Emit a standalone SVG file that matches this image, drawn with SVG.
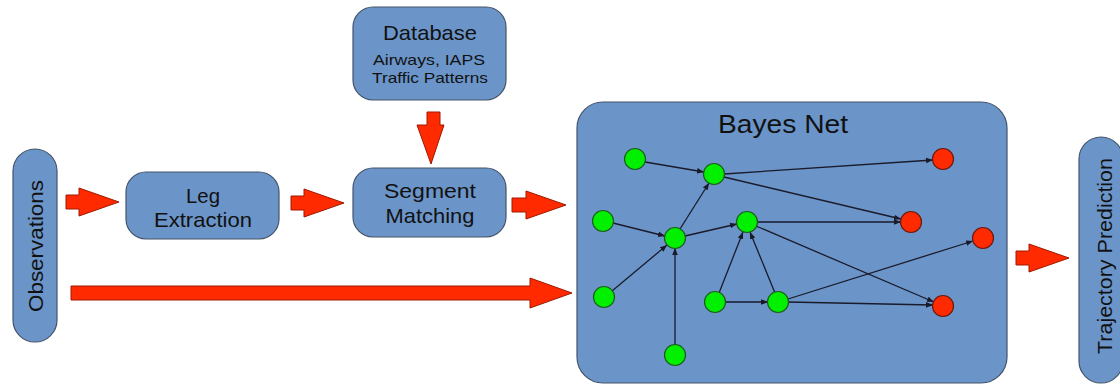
<svg xmlns="http://www.w3.org/2000/svg" width="1120" height="388" viewBox="0 0 1120 388">
<style>
.box{fill:#6b95c9;stroke:#44546a;stroke-width:1.2}
.t{font-family:"Liberation Sans",Arial,sans-serif;fill:#111;text-anchor:middle}
.big{font-size:21px}
.small{font-size:15px}
.fat{fill:#ff2a00;stroke:#a01800;stroke-width:1}
.g{fill:#00f000;stroke:#1d5c1d;stroke-width:1.2}
.r{fill:#ff2a00;stroke:#6a1a10;stroke-width:1.2}
.e{stroke:#1a1a2a;stroke-width:1.3;fill:none;marker-end:url(#ah)}
</style>
<defs>
<marker id="ah" viewBox="0 0 10 10" refX="10" refY="5" markerWidth="7" markerHeight="7" markerUnits="userSpaceOnUse" orient="auto">
<path d="M0,1 L10,5 L0,9 z" fill="#1a1a2a"/>
</marker>
</defs>
<rect width="1120" height="388" fill="#ffffff"/>

<g id="observations">
<rect class="box" x="13" y="149" width="44" height="193" rx="22" ry="22"/>
<text class="t big" transform="translate(43,246) rotate(-90)" textLength="132" lengthAdjust="spacingAndGlyphs">Observations</text>
</g>
<g id="leg-extraction">
<rect class="box" x="126" y="172" width="153" height="67" rx="20" ry="20"/>
<text class="t big" x="203" y="203" textLength="34" lengthAdjust="spacingAndGlyphs">Leg</text>
<text class="t big" x="203" y="227" textLength="98" lengthAdjust="spacingAndGlyphs">Extraction</text>
</g>
<g id="database">
<rect class="box" x="353" y="7" width="153" height="93" rx="20" ry="20"/>
<text class="t big" x="430" y="40" textLength="94" lengthAdjust="spacingAndGlyphs">Database</text>
<text class="t small" x="429" y="65" textLength="112" lengthAdjust="spacingAndGlyphs">Airways, IAPS</text>
<text class="t small" x="430" y="83" textLength="116" lengthAdjust="spacingAndGlyphs">Traffic Patterns</text>
</g>
<g id="segment-matching">
<rect class="box" x="353" y="168" width="153" height="69" rx="20" ry="20"/>
<text class="t big" x="430" y="198" textLength="92" lengthAdjust="spacingAndGlyphs">Segment</text>
<text class="t big" x="430" y="223" textLength="89" lengthAdjust="spacingAndGlyphs">Matching</text>
</g>
<g id="bayes-net">
<rect class="box" x="577" y="102" width="430" height="281" rx="26" ry="26"/>
<text class="t" style="font-size:26px" x="783" y="133" textLength="130" lengthAdjust="spacingAndGlyphs">Bayes Net</text>
</g>
<g id="trajectory-prediction">
<rect class="box" x="1079" y="137" width="44" height="246" rx="22" ry="22"/>
<text class="t big" transform="translate(1112,256) rotate(-90)" textLength="196" lengthAdjust="spacingAndGlyphs">Trajectory Prediction</text>
</g>

<g id="connectors">
<polygon class="fat" points="66,195 79,195 79,188 119,202 79,216 79,209 66,209"/>
<polygon class="fat" points="291,196 304,196 304,189 344,203 304,217 304,210 291,210"/>
<polygon class="fat" points="427,112 440,112 440,125 444,125 431,164 417,125 427,125"/>
<polygon class="fat" points="512,198 526,198 526,191 566,205 526,219 526,212 512,212"/>
<polygon class="fat" points="71,286 530,286 530,278 572,293 530,308 530,300 71,300"/>
<polygon class="fat" points="1016,251 1029,251 1029,244 1069,258 1029,272 1029,265 1016,265"/>

<line class="e" x1="645" y1="162" x2="704" y2="172"/>
<line class="e" x1="613" y1="223" x2="665" y2="236"/>
<line class="e" x1="612" y1="291" x2="667" y2="245"/>
<line class="e" x1="675" y1="345" x2="675" y2="248"/>
<line class="e" x1="680" y1="229" x2="709" y2="183"/>
<line class="e" x1="685" y1="236" x2="737" y2="224"/>
<line class="e" x1="719" y1="293" x2="743" y2="232"/>
<line class="e" x1="775" y1="293" x2="750" y2="232"/>
<line class="e" x1="725" y1="302" x2="768" y2="302"/>
<line class="e" x1="724" y1="174" x2="933" y2="160"/>
<line class="e" x1="724" y1="177" x2="901" y2="219"/>
<line class="e" x1="757" y1="222" x2="901" y2="222"/>
<line class="e" x1="756" y1="226" x2="934" y2="302"/>
<line class="e" x1="788" y1="299" x2="973" y2="241"/>
<line class="e" x1="788" y1="302" x2="933" y2="305"/>
</g>

<g id="nodes">
<circle class="g" cx="635" cy="159" r="10.5"/>
<circle class="g" cx="714" cy="174" r="10.5"/>
<circle class="g" cx="603" cy="221" r="10.5"/>
<circle class="g" cx="675" cy="238" r="10.5"/>
<circle class="g" cx="747" cy="222" r="10.5"/>
<circle class="g" cx="604" cy="297" r="10.5"/>
<circle class="g" cx="715" cy="302" r="10.5"/>
<circle class="g" cx="778" cy="302" r="10.5"/>
<circle class="g" cx="675" cy="355" r="10.5"/>
<circle class="r" cx="943" cy="159" r="10.5"/>
<circle class="r" cx="911" cy="222" r="10.5"/>
<circle class="r" cx="983" cy="238" r="10.5"/>
<circle class="r" cx="943" cy="306" r="10.5"/>
</g>
</svg>
